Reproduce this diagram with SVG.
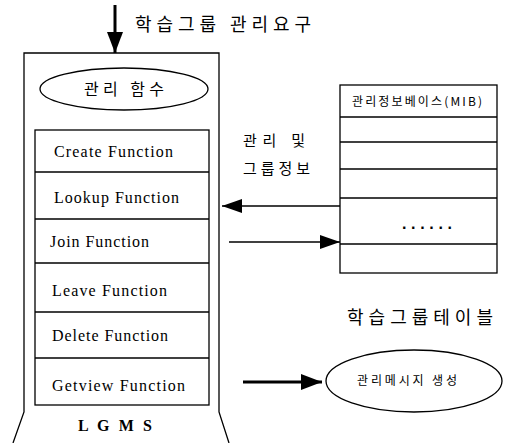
<svg xmlns="http://www.w3.org/2000/svg" width="508" height="443" viewBox="0 0 508 443">
<defs>
<marker id="ah" viewBox="0 0 10 10" refX="10" refY="5" markerWidth="21" markerHeight="16" markerUnits="userSpaceOnUse" orient="auto" preserveAspectRatio="none">
<path d="M0,0 L10,5 L0,10 z" fill="#000"/>
</marker>
<marker id="ah2" viewBox="0 0 10 10" refX="10" refY="5" markerWidth="20" markerHeight="14" markerUnits="userSpaceOnUse" orient="auto" preserveAspectRatio="none">
<path d="M0,0 L10,5 L0,10 z" fill="#000"/>
</marker>
</defs>
<style>
.ln{fill:none;stroke:#000;stroke-width:1.3}
.ko{font-family:"Noto Sans CJK KR",sans-serif;fill:#000}
.en{font-family:"Liberation Serif","Times New Roman",serif;font-size:16px;fill:#000}
</style>
<rect width="508" height="443" fill="#fff"/>
<g id="lgms">
<path class="ln" d="M13,443 L24,412 L24,53 L219,53 L219,412 L229,443"/>
<text x="115" y="431" font-family="'Liberation Serif',serif" font-size="16" font-weight="bold" text-anchor="middle" textLength="74" lengthAdjust="spacing">L G M S</text>
</g>
<g id="mgmt-func">
<ellipse class="ln" cx="124" cy="89" rx="84" ry="21"/>
<text class="ko" x="124" y="95" font-size="16" text-anchor="middle" textLength="80" lengthAdjust="spacing">관리 함수</text>
</g>
<g id="func-table">
<rect class="ln" x="35" y="130" width="174" height="275"/>
<line class="ln" x1="35" y1="172" x2="209" y2="172"/>
<line class="ln" x1="35" y1="219" x2="209" y2="219"/>
<line class="ln" x1="35" y1="263" x2="209" y2="263"/>
<line class="ln" x1="35" y1="312" x2="209" y2="312"/>
<line class="ln" x1="35" y1="358" x2="209" y2="358"/>
<text class="en" x="54" y="157" textLength="119" lengthAdjust="spacing">Create Function</text>
<text class="en" x="54" y="203" textLength="125" lengthAdjust="spacing">Lookup Function</text>
<text class="en" x="50" y="247" textLength="99" lengthAdjust="spacing">Join Function</text>
<text class="en" x="52" y="296" textLength="115" lengthAdjust="spacing">Leave Function</text>
<text class="en" x="52" y="341" textLength="116" lengthAdjust="spacing">Delete Function</text>
<text class="en" x="52" y="391" textLength="133" lengthAdjust="spacing">Getview Function</text>
</g>
<g id="mib">
<rect class="ln" x="340" y="85" width="157" height="188"/>
<line class="ln" x1="340" y1="117" x2="497" y2="117"/>
<line class="ln" x1="340" y1="142" x2="497" y2="142"/>
<line class="ln" x1="340" y1="169" x2="497" y2="169"/>
<line class="ln" x1="340" y1="198" x2="497" y2="198"/>
<line class="ln" x1="340" y1="244" x2="497" y2="244"/>
<text class="ko" x="417" y="106" font-size="12" text-anchor="middle" textLength="130" lengthAdjust="spacing">관리정보베이스(MIB)</text>
<text x="427" y="229" font-family="'Liberation Sans',sans-serif" font-size="16" font-weight="bold" text-anchor="middle" textLength="50" lengthAdjust="spacing">......</text>
</g>
<g id="group-table-label">
<text class="ko" x="420" y="324" font-size="18" text-anchor="middle" textLength="146" lengthAdjust="spacing">학습그룹테이블</text>
</g>
<g id="msg-gen">
<ellipse class="ln" cx="414" cy="381" rx="88" ry="31"/>
<text class="ko" x="407" y="385" font-size="12" text-anchor="middle" textLength="100" lengthAdjust="spacing">관리메시지 생성</text>
</g>
<g id="labels">
<text class="ko" x="135" y="31" font-size="18" textLength="176" lengthAdjust="spacing">학습그룹 관리요구</text>
<text class="ko" x="243" y="146" font-size="15" textLength="62" lengthAdjust="spacing">관리 및</text>
<text class="ko" x="243" y="174" font-size="15" textLength="67" lengthAdjust="spacing">그룹정보</text>
</g>
<g id="connectors">
<line x1="115" y1="5" x2="115" y2="53" stroke="#000" stroke-width="3" marker-end="url(#ah)"/>
<line x1="340" y1="206" x2="222" y2="206" stroke="#000" stroke-width="1.3" marker-end="url(#ah2)"/>
<line x1="229" y1="242" x2="340" y2="242" stroke="#000" stroke-width="1.3" marker-end="url(#ah2)"/>
<line x1="243" y1="382" x2="322" y2="382" stroke="#000" stroke-width="3" marker-end="url(#ah)"/>
</g>
</svg>
